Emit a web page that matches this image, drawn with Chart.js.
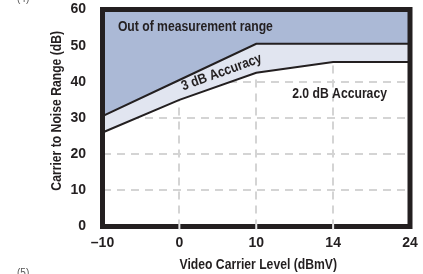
<!DOCTYPE html>
<html>
<head>
<meta charset="utf-8">
<script src="https://cdn.jsdelivr.net/npm/chart.js@4"></script>
<style>
  html, body { margin: 0; padding: 0; background: #fff; }
  #wrap { position: relative; width: 423px; height: 274px; }
</style>
</head>
<body>
<div id="wrap"><canvas id="chart"></canvas></div>
<script>
const xLabels = ['\u201310', '0', '10', '14', '24'];
const yTicks = [0, 10, 20, 30, 40, 50, 60];
const outOfRange = [30.5, 40.5, 50.5, 50.5, 50.5];   // lower edge of "out of measurement range"
const accuracy2dB = [26, 35, 42.5, 45.5, 45.5];     // upper edge of the 2.0 dB zone

const FONT = '"Liberation Sans", Arial, sans-serif';
const INK = '#231f20';
const SQUEEZE = 0.87; // fake a condensed face

// draw text squeezed horizontally along its own direction
function narrowText(ctx, text, x, y, opts) {
    ctx.save();
    ctx.translate(x, y);
    if (opts.angle) ctx.rotate(opts.angle * Math.PI / 180);
    ctx.scale(SQUEEZE, 1);
    ctx.font = 'bold ' + opts.size + 'px ' + FONT;
    ctx.textAlign = opts.align || 'center';
    ctx.textBaseline = 'middle';
    ctx.fillStyle = opts.color || INK;
    ctx.fillText(text, 0, 0);
    ctx.restore();
}

const framePlugin = {
    id: 'frame',
    afterDatasetsDraw(chart) {
        const { ctx, chartArea: a, scales } = chart;
        const sx = scales.x, sy = scales.y;
        ctx.save();
        ctx.strokeStyle = INK;
        ctx.lineWidth = 5;
        ctx.strokeRect(a.left, a.top, a.right - a.left, a.bottom - a.top);
        // light gaps where the vertical grid meets the bottom frame
        ctx.fillStyle = '#e6e6e6';
        [1, 2, 3].forEach(i => {
            const x = sx.getPixelForValue(i);
            ctx.fillRect(x - 1, a.bottom - 3, 2, 6);
        });
        ctx.restore();

        narrowText(ctx, 'Out of measurement range', sx.getPixelForValue(0.2), sy.getPixelForValue(55), { size: 14, align: 'left' });
        narrowText(ctx, '2.0 dB Accuracy', sx.getPixelForValue(3.7), sy.getPixelForValue(36.5), { size: 14, align: 'right' });
        narrowText(ctx, '3 dB Accuracy', sx.getPixelForValue(1.55), sy.getPixelForValue(42.6), { size: 14, angle: -20 });

        // axis titles
        narrowText(ctx, 'Video Carrier Level (dBmV)', (a.left + a.right) / 2 + 2, 265, { size: 14 });
        narrowText(ctx, 'Carrier to Noise Range (dB)', 57, sy.getPixelForValue(32), { size: 14, angle: -90 });

        ctx.save();
        ctx.font = '10px ' + FONT;
        ctx.fillStyle = '#555';
        ctx.textAlign = 'left';
        ctx.textBaseline = 'middle';
        ctx.fillText('(4)', 17, -1);
        ctx.fillText('(5)', 17, 273);
        ctx.restore();
    }
};

const toPoints = arr => arr.map((v, i) => ({ x: i, y: v }));

new Chart(document.getElementById('chart'), {
    type: 'line',
    data: {
        datasets: [
            {
                label: 'Out of measurement range',
                data: toPoints(outOfRange),
                borderColor: INK,
                borderWidth: 2,
                backgroundColor: '#abb9d6',
                fill: 'end',
                pointRadius: 0,
                tension: 0
            },
            {
                label: '3 dB Accuracy',
                data: toPoints(accuracy2dB),
                borderColor: INK,
                borderWidth: 2,
                backgroundColor: '#e1e5f0',
                fill: '-1',
                pointRadius: 0,
                tension: 0
            }
        ]
    },
    options: {
        responsive: true,
        maintainAspectRatio: false,
        animation: false,
        layout: { padding: { top: 9.5, right: 13, left: 42.5, bottom: 0 } },
        plugins: {
            legend: { display: false },
            tooltip: { enabled: false }
        },
        scales: {
            x: {
                type: 'linear',
                min: 0,
                max: xLabels.length - 1,
                afterFit: s => { s.height = 47.5; s.paddingLeft = 0; s.paddingRight = 0; },
                afterBuildTicks: s => { s.ticks = xLabels.map((_, i) => ({ value: i })); },
                ticks: {
                    callback: v => xLabels[v],
                    color: INK,
                    padding: 8,
                    font: { family: FONT, size: 14, weight: 'bold' }
                },
                grid: {
                    drawTicks: false,
                    color: c => (c.index === 0 || c.index === xLabels.length - 1) ? 'rgba(0,0,0,0)' : '#d4d4d4',
                    lineWidth: 2
                },
                border: { display: false, dash: [8, 6] }
            },
            y: {
                min: 0,
                max: 60,
                afterFit: s => { s.width = 60; s.paddingTop = 0; s.paddingBottom = 0; },
                afterBuildTicks: s => { s.ticks = yTicks.map(v => ({ value: v })); },
                ticks: {
                    color: INK,
                    padding: 16.5,
                    font: { family: FONT, size: 14, weight: 'bold' }
                },
                grid: {
                    drawTicks: false,
                    color: c => (c.tick.value === 0 || c.tick.value === 60) ? 'rgba(0,0,0,0)' : '#d4d4d4',
                    lineWidth: 2
                },
                border: { display: false, dash: [8, 6] }
            }
        }
    },
    plugins: [framePlugin]
});
</script>
</body>
</html>
